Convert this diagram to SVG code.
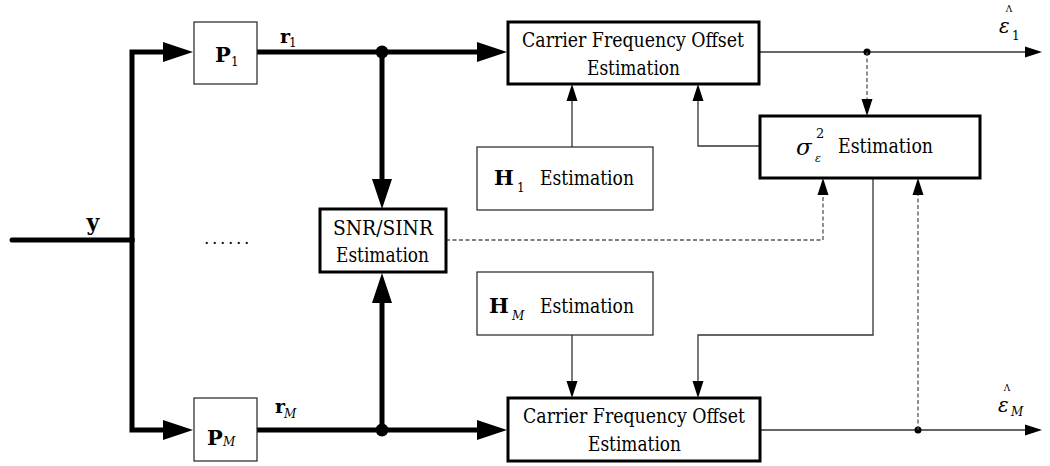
<svg xmlns="http://www.w3.org/2000/svg" width="1050" height="466" viewBox="0 0 1050 466">
<style>
text{font-family:'DejaVu Serif','Liberation Serif',serif;fill:#000}
.t{font-size:20px}
.b{font-weight:bold}
.i{font-style:italic}
.sub{font-size:12px}
.thin{fill:#fff;stroke:#222;stroke-width:1.2}
.thick{fill:#fff;stroke:#000;stroke-width:3}
.bus{fill:none;stroke:#000;stroke-width:5;stroke-linejoin:miter}
.wire{fill:none;stroke:#333;stroke-width:1.3}
.dash{fill:none;stroke:#555;stroke-width:1.3;stroke-dasharray:4 2.5}
</style>
<defs>
<marker id="big" markerUnits="userSpaceOnUse" markerWidth="31" markerHeight="21" refX="0" refY="10" orient="auto" overflow="visible">
<path d="M0,0 L30,10 L0,20 z" fill="#000"/>
</marker>
<marker id="sm" markerUnits="userSpaceOnUse" markerWidth="18" markerHeight="12" refX="0" refY="5.5" orient="auto" overflow="visible">
<path d="M0,0 L17,5.5 L0,11 z" fill="#000"/>
</marker>
</defs>

<g id="connectors">
<path class="bus" d="M12,240 H132" stroke-linecap="round"/>
<path class="bus" d="M132,242 V52 H163" marker-end="url(#big)"/>
<path class="bus" d="M132,238 V430 H163" marker-end="url(#big)"/>
<path class="bus" d="M257,52 H477" stroke-linecap="round" marker-end="url(#big)"/>
<path class="bus" d="M257,430 H477" stroke-linecap="round" marker-end="url(#big)"/>
<path class="bus" d="M382,52 V179" marker-end="url(#big)"/>
<path class="bus" d="M382,430 V303" marker-end="url(#big)"/>
<circle cx="382" cy="52" r="6.5" fill="#000"/>
<circle cx="382" cy="430" r="6.5" fill="#000"/>

<path class="wire" d="M759,52 H1025" marker-end="url(#sm)"/>
<path class="wire" d="M760,430 H1025" marker-end="url(#sm)"/>
<circle cx="867" cy="52" r="3.5" fill="#000"/>
<circle cx="918" cy="430" r="3.5" fill="#000"/>
<path class="dash" d="M867,52 V99" marker-end="url(#sm)"/>
<path class="dash" d="M918,430 V195" marker-end="url(#sm)"/>
<path class="dash" d="M446,240 H823 V195" marker-end="url(#sm)"/>
<path class="wire" d="M572,147 V101" marker-end="url(#sm)"/>
<path class="wire" d="M760,146 H698 V101" marker-end="url(#sm)"/>
<path class="wire" d="M873,178 V335 H698 V381" marker-end="url(#sm)"/>
<path class="wire" d="M572,335 V381" marker-end="url(#sm)"/>
</g>

<g id="label-y"><text class="b" x="93" y="230" font-size="22" text-anchor="middle">y</text></g>
<g id="label-dots"><text x="204" y="244" font-size="17" letter-spacing="2.6">......</text></g>
<g id="label-r1"><text class="b" x="280" y="43" font-size="19">r</text><text class="sub" x="289" y="47">1</text></g>
<g id="label-rM"><text class="b" x="275" y="413" font-size="19">r</text><text class="sub i" x="284" y="418">M</text></g>

<g id="P1">
<rect class="thin" x="194" y="22" width="63" height="62"/>
<text class="b" x="215" y="62" font-size="21">P</text><text class="sub" x="231" y="66">1</text>
</g>
<g id="PM">
<rect class="thin" x="194" y="398" width="63" height="63"/>
<text class="b" x="207" y="445" font-size="21">P</text><text class="sub i" x="223" y="446">M</text>
</g>
<g id="SNR">
<rect class="thick" x="320" y="209" width="126" height="63"/>
<text class="t" x="333" y="235" textLength="100" lengthAdjust="spacingAndGlyphs">SNR/SINR</text>
<text class="t" x="336" y="262" textLength="93" lengthAdjust="spacingAndGlyphs">Estimation</text>
</g>
<g id="CFO1">
<rect class="thick" x="508" y="22" width="251" height="62"/>
<text class="t" x="522" y="47" textLength="222" lengthAdjust="spacingAndGlyphs">Carrier Frequency Offset</text>
<text class="t" x="587" y="75" textLength="93" lengthAdjust="spacingAndGlyphs">Estimation</text>
</g>
<g id="CFOM">
<rect class="thick" x="508" y="398" width="252" height="63"/>
<text class="t" x="523" y="423" textLength="222" lengthAdjust="spacingAndGlyphs">Carrier Frequency Offset</text>
<text class="t" x="588" y="451" textLength="93" lengthAdjust="spacingAndGlyphs">Estimation</text>
</g>
<g id="H1">
<rect class="thin" x="477" y="147" width="176" height="63"/>
<text class="b" x="494" y="185" font-size="21">H</text><text class="sub" x="517" y="192">1</text>
<text class="t" x="540" y="185" textLength="94" lengthAdjust="spacingAndGlyphs">Estimation</text>
</g>
<g id="HM">
<rect class="thin" x="477" y="272" width="176" height="63"/>
<text class="b" x="489" y="313" font-size="21">H</text><text class="sub i" x="512" y="320">M</text>
<text class="t" x="540" y="313" textLength="94" lengthAdjust="spacingAndGlyphs">Estimation</text>
</g>
<g id="Sigma">
<rect class="thick" x="760" y="116" width="220" height="62"/>
<text class="i" x="796" y="155" font-size="23">σ</text>
<text x="816" y="138" font-size="13">2</text>
<text class="i" x="815" y="162" font-size="11">ε</text>
<text class="t" x="838" y="153" textLength="95" lengthAdjust="spacingAndGlyphs">Estimation</text>
</g>
<g id="eps1">
<text x="1009" y="12" font-size="9" text-anchor="middle">Λ</text>
<text class="i" x="999" y="33" font-size="20">ε</text>
<text class="sub" x="1012" y="40">1</text>
</g>
<g id="epsM">
<text x="1007" y="391" font-size="9" text-anchor="middle">Λ</text>
<text class="i" x="998" y="412" font-size="20">ε</text>
<text class="sub i" x="1011" y="416">M</text>
</g>
</svg>
